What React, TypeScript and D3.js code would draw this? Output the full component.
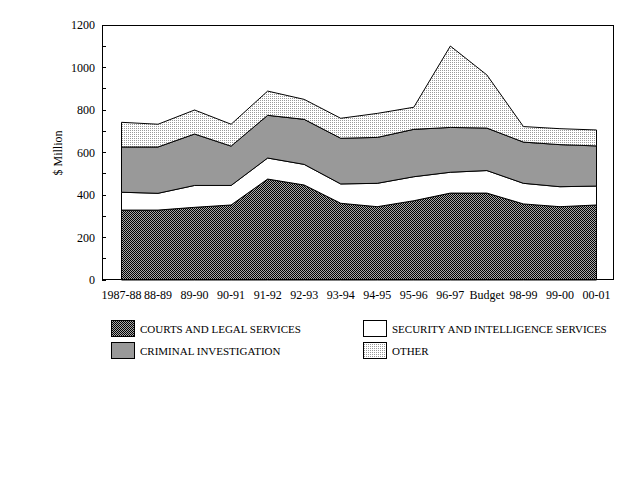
import React from "react";
import * as d3 from "d3";

const categories = ["1987-88", "88-89", "89-90", "90-91", "91-92", "92-93", "93-94", "94-95", "95-96", "96-97", "Budget", "98-99", "99-00", "00-01"];
const courts = [329, 329, 342, 353, 475, 447, 361, 345, 373, 409, 409, 358, 345, 353];
const security = [84, 79, 103, 92, 99, 97, 91, 110, 113, 98, 106, 97, 94, 89];
const criminal = [213, 218, 242, 185, 201, 212, 215, 216, 223, 211, 200, 194, 198, 189];
const other = [116, 107, 113, 103, 114, 94, 94, 113, 104, 383, 250, 73, 75, 75];
const seriesNames = ["COURTS AND LEGAL SERVICES", "SECURITY AND INTELLIGENCE SERVICES", "CRIMINAL INVESTIGATION", "OTHER"];
const yTicks = [0, 200, 400, 600, 800, 1000, 1200];
const yMinor = [100, 300, 500, 700, 900, 1100];

const W = 640, H = 480;
const L = 102, R = 614, T = 25, B = 280;
const FONT = "'Liberation Serif', 'Times New Roman', serif";

export default function App() {
  const x = d3.scalePoint<string>().domain(categories).range([L + 19.5, R - 17.5]);
  const y = d3.scaleLinear().domain([0, 1200]).range([B, T]);
  const rows = categories.map((c, i) => ({ cat: c, courts: courts[i], security: security[i], criminal: criminal[i], other: other[i] }));
  const keys = ["courts", "security", "criminal", "other"];
  const stack = d3.stack<any>().keys(keys)(rows);
  const area = d3.area<any>()
    .x((d) => x(d.data.cat) as number)
    .y0((d) => y(d[0]))
    .y1((d) => y(d[1]));
  const fills = ["url(#checker)", "#ffffff", "#999999", "url(#dots)"];
  const legendFills = fills;
  const legendPos = [
    { bx: 111, by: 320, tx: 140 },
    { bx: 363, by: 320, tx: 392 },
    { bx: 111, by: 342, tx: 140 },
    { bx: 363, by: 342, tx: 392 },
  ];
  return (
    <svg width={W} height={H} style={{ position: "absolute", left: 0, top: 0, background: "#fff" }}>
      <defs>
        <pattern id="checker" patternUnits="userSpaceOnUse" width="2" height="2">
          <rect x="0" y="0" width="2" height="2" fill="#a8a8a8" />
          <rect x="0" y="0" width="1" height="1" fill="#000" />
          <rect x="1" y="1" width="1" height="1" fill="#000" />
        </pattern>
        <pattern id="dots" patternUnits="userSpaceOnUse" width="2" height="2">
          <rect x="0" y="0" width="2" height="2" fill="#fff" />
          <rect x="0" y="0" width="1" height="1" fill="#999" />
        </pattern>
      </defs>
      <rect x={0} y={0} width={W} height={H} fill="#fff" />
      {stack.map((s, i) => (
        <path key={i} d={area(s as any) || ""} fill={fills[i]} stroke="#000" strokeWidth={1} strokeLinejoin="round" />
      ))}
      <rect x={L + 0.5} y={T + 0.5} width={R - L - 1} height={B - T - 1} fill="none" stroke="#000" strokeWidth={1} shapeRendering="crispEdges" />
      {yTicks.map((t) => (
        <g key={t}>
          <line x1={L} x2={L + 4} y1={y(t)} y2={y(t)} stroke="#000" shapeRendering="crispEdges" />
          <text x={95} y={y(t)} dy="0.35em" textAnchor="end" fontFamily={FONT} fontSize={12}>{t}</text>
        </g>
      ))}
      {yMinor.map((t) => (
        <line key={t} x1={L} x2={L + 4} y1={y(t)} y2={y(t)} stroke="#000" shapeRendering="crispEdges" />
      ))}
      {categories.map((c) => (
        <text key={c} x={x(c) as number} y={299} textAnchor="middle" fontFamily={FONT} fontSize={12}>{c}</text>
      ))}
      <text transform={`translate(62,153) rotate(-90)`} textAnchor="middle" fontFamily={FONT} fontSize={12}>$ Million</text>
      {seriesNames.map((n, i) => {
        const p = legendPos[i];
        return (
          <g key={n}>
            <rect x={p.bx + 0.5} y={p.by + 0.5} width={23} height={16} fill={legendFills[i]} stroke="#000" shapeRendering="crispEdges" />
            <text x={p.tx} y={p.by + 9} dy="0.35em" fontFamily={FONT} fontSize={11}>{n}</text>
          </g>
        );
      })}
    </svg>
  );
}
